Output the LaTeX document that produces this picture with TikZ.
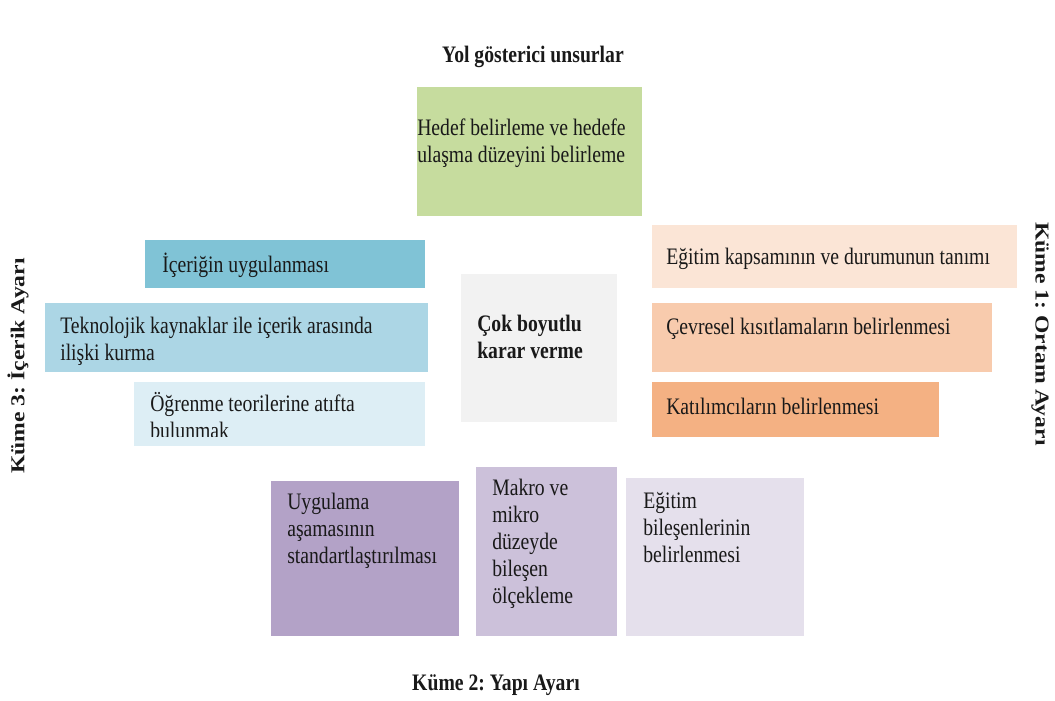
\documentclass[tikz,border=0pt]{standalone}
\usepackage{fontspec}
\setmainfont{Liberation Serif}
\frenchspacing
\definecolor{yesil}{HTML}{C6DC9E}
\definecolor{mavi1}{HTML}{80C3D6}
\definecolor{mavi2}{HTML}{ACD6E5}
\definecolor{mavi3}{HTML}{DDEEF5}
\definecolor{turuncu1}{HTML}{FBE5D6}
\definecolor{turuncu2}{HTML}{F8CBAD}
\definecolor{turuncu3}{HTML}{F4B183}
\definecolor{mor1}{HTML}{B3A2C7}
\definecolor{mor2}{HTML}{CCC1DA}
\definecolor{mor3}{HTML}{E5E0EC}
\definecolor{gri}{HTML}{F2F2F2}
\begin{document}
\begin{tikzpicture}[x=0.025cm, y=-0.025cm, every node/.style={font=\fontsize{14}{16}\selectfont, text=black!90, inner sep=0pt, yscale=1.2}]
  \tikzstyle{yazi}=[anchor=base west, align=left]
  \tikzstyle{baslik}=[font=\fontsize{14}{16}\selectfont\bfseries]
  \useasboundingbox (0,0) rectangle (1055,700);
  % kutular
  \foreach \xa/\ya/\xb/\yb/\renk in {417/87/642/216/yesil,
      145/240/425/288/mavi1, 45/303/428/372/mavi2, 134/382/425/446/mavi3,
      461/274/617/422/gri,
      652/225/1017/288/turuncu1, 652/303/992/372/turuncu2, 652/382/939/437/turuncu3,
      271/481/459/636/mor1, 476/467/617/636/mor2, 626/478/804/636/mor3}
    \fill[\renk] (\xa,\ya) rectangle (\xb,\yb);
  % yol gosterici
  \node[baslik, anchor=base] (yol) at (533,62) {Yol gösterici unsurlar};
  \node[yazi] (hedef) at (417,162) {Hedef belirleme ve hedefe\\ulaşma düzeyini belirleme};
  % merkez
  \node[yazi, baslik] (karar) at (477,358) {Çok boyutlu\\karar verme};
  % kume 3
  \node[yazi] (icerik) at (162,272) {İçeriğin uygulanması};
  \node[yazi] (teknoloji) at (60,360) {Teknolojik kaynaklar ile içerik arasında\\ilişki kurma};
  \begin{scope}
    \clip (134,382) rectangle (425,436);
    \node[yazi] (ogrenme) at (150,438) {Öğrenme teorilerine atıfta\\bulunmak};
  \end{scope}
  \node[baslik, rotate=90] (kume3) at (18,366) {Küme 3: İçerik Ayarı};
  % kume 1
  \node[yazi] (kapsam) at (666,264) {Eğitim kapsamının ve durumunun tanımı};
  \node[yazi] (cevre) at (666,334) {Çevresel kısıtlamaların belirlenmesi};
  \node[yazi] (katilim) at (666,414) {Katılımcıların belirlenmesi};
  \node[baslik, rotate=-90] (kume1) at (1040,334) {Küme 1: Ortam Ayarı};
  % kume 2
  \node[yazi] (uygulama) at (287,563) {Uygulama\\aşamasının\\standartlaştırılması};
  \node[yazi] (makro) at (492,603) {Makro ve\\mikro\\düzeyde\\bileşen\\ölçekleme};
  \node[yazi] (bilesen) at (643,562) {Eğitim\\bileşenlerinin\\belirlenmesi};
  \node[baslik, anchor=base] (kume2) at (496,690) {Küme 2: Yapı Ayarı};
\end{tikzpicture}
\end{document}
